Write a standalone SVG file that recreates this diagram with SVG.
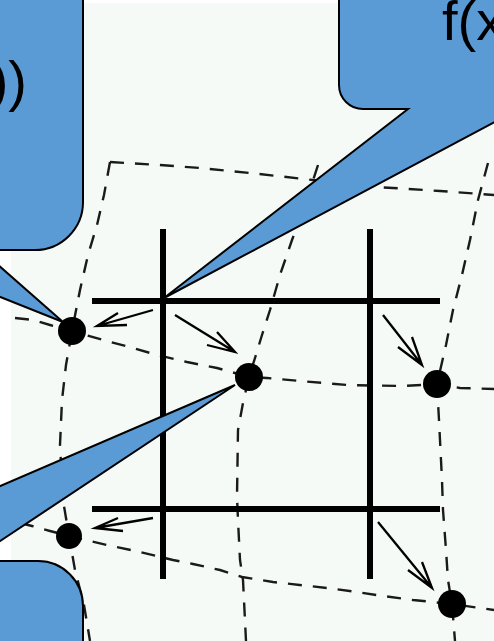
<svg xmlns="http://www.w3.org/2000/svg" width="494" height="641" viewBox="0 0 494 641">
<defs>
<style>
.bg{fill:#f6faf7}
.grid{fill:none;stroke:#1a1a1a;stroke-width:2.4;stroke-dasharray:14 11}
.bar{stroke:#000;stroke-width:6;fill:none}
.arr{fill:none;stroke:#000;stroke-width:2.3;stroke-linejoin:miter}
.dot{fill:#000}
.call{fill:#5b9bd5;stroke:#000;stroke-width:2;stroke-linejoin:miter}
.lbl{font-family:"Liberation Sans",Arial,sans-serif;font-size:56px;fill:#000}
</style>
</defs>
<rect x="0" y="0" width="494" height="641" fill="#ffffff"/>
<rect class="bg" x="11" y="3" width="483" height="638"/>
<g id="warped-grid">
<polyline class="grid" points="110,162 104,195 97,225 88,255 80,290 72,331 66,365 62,400 60,445 63,500 69,536 75,570 84,605 90,641"/>
<polyline class="grid" points="318,165 305,205 292,240 280,275 270,310 262,335 255,358 249,377 243,403 238,430 237,497 238,520 240,560 243,580 246,641"/>
<polyline class="grid" points="488,163 478,200 470,240 462,275 453,310 446,345 437,384 439,420 440,440 442,480 443,510 446,550 448,580 452,604 455,641"/>
<polyline class="grid" points="110,162 160,165 200,168 250,173 313,180 345,184 377,187 440,191 494,195"/>
<polyline class="grid" points="15,318 33,320 50,325 72,331 103,340 133,348 157,355 187,362 217,368 249,377 267,378 300,381 347,385 403,386 437,384 460,388 494,389"/>
<polyline class="grid" points="20,523 32,526 50,531 69,536 107,545 140,552 173,560 193,564 220,570 242,577 273,582 327,588 357,592 383,596 413,600 452,604 494,610"/>
</g>
<g id="regular-grid">
<line class="bar" x1="163" y1="229" x2="163" y2="579"/>
<line class="bar" x1="370" y1="229" x2="370" y2="579"/>
<line class="bar" x1="92" y1="301" x2="440" y2="301"/>
<line class="bar" x1="92" y1="509" x2="440" y2="509"/>
</g>
<g id="connectors">
<path class="arr" d="M153,310 L97,326 M118,313 L97,326 L127,325"/>
<path class="arr" d="M175,315 L235,352 M207,345 L235,352 L217,332"/>
<path class="arr" d="M383,315 L422,365 M398,347 L422,365 L412,337"/>
<path class="arr" d="M153,518 L95,528 M118,518 L95,528 L123,531"/>
<path class="arr" d="M378,522 L432,588 M408,570 L432,588 L422,562"/>
</g>
<g id="dot-1"><circle class="dot" cx="72" cy="331" r="14"/></g>
<g id="dot-2"><circle class="dot" cx="249" cy="377" r="14"/></g>
<g id="dot-3"><circle class="dot" cx="437" cy="384" r="14"/></g>
<g id="dot-4"><circle class="dot" cx="69" cy="536" r="13"/></g>
<g id="dot-5"><circle class="dot" cx="452" cy="604" r="14"/></g>
<g id="callout-top-left">
<path class="call" d="M-200,-50 L83,-50 L83,202 A48,48 0 0 1 35,250 L-19,250 L63,322 L-118,250 L-200,250 Z"/>
<text class="lbl" x="27" y="100" text-anchor="end">))</text>
</g>
<g id="callout-top-right">
<path class="call" d="M339,-50 L600,-50 L600,109 L519,109 L164,298 L408,109 L363,109 A24,24 0 0 1 339,85 Z"/>
<text class="lbl" x="442" y="40">f(x)</text>
</g>
<g id="callout-bottom-left">
<path class="call" d="M-200,700 L-200,561 L-174,561 L235,385 L-30,561 L38,561 A45,45 0 0 1 83,606 L83,700 Z"/>
</g>
</svg>
